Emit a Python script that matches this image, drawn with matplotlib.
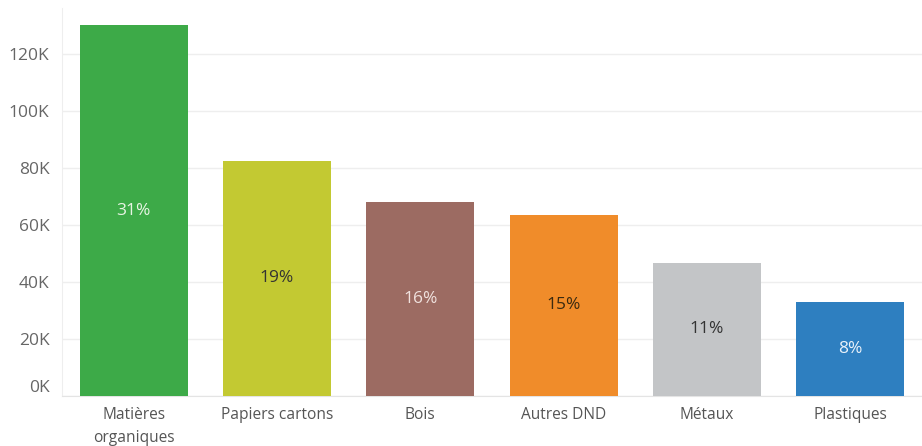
import matplotlib
matplotlib.use("Agg")
import matplotlib.pyplot as plt
from matplotlib.ticker import FuncFormatter

categories = ["Matières\norganiques", "Papiers cartons", "Bois", "Autres DND", "Métaux", "Plastiques"]
values = [130000, 82500, 68000, 63500, 46700, 33000]
pct_labels = ["31%", "19%", "16%", "15%", "11%", "8%"]
colors = ["#3DAA48", "#C3C932", "#9C6B62", "#F08C2A", "#C3C5C7", "#2E7FC0"]
label_colors = ["#E8F5E4", "#333333", "#F0E2DE", "#3A2A10", "#333333", "#EAF2FA"]
yticks = [0, 20000, 40000, 60000, 80000, 100000, 120000]

plt.rcParams['font.family'] = ['Open Sans', 'DejaVu Sans']

fig = plt.figure(figsize=(9.22, 4.46), dpi=100)
ax = fig.add_axes([62/922, 1-396/446, 860/922, 388/446])

x = list(range(len(categories)))
bars = ax.bar(x, values, width=0.755, color=colors, zorder=3)
for xi, v, t, c in zip(x, values, pct_labels, label_colors):
    ax.text(xi, v/2, t, ha='center', va='center', fontsize=12.5, color=c, zorder=4)

ax.set_xlim(-0.5, len(categories)-0.5)
ax.set_ylim(0, 136000)
ax.set_yticks(yticks)
ax.yaxis.set_major_formatter(FuncFormatter(lambda v, p: f"{int(v/1000)}K"))
ax.set_xticks(x)
ax.set_xticklabels(categories, fontsize=11.2, color="#555555", linespacing=1.55)
ax.tick_params(axis='y', labelsize=12.5, labelcolor="#666666", length=0, pad=9)
ax.tick_params(axis='x', length=0, pad=8)
ax.get_yticklabels()[0].set_verticalalignment('bottom')
ax.grid(axis='y', color="#EEEEEE", linewidth=1, zorder=0)
for s in ['top', 'right']:
    ax.spines[s].set_visible(False)
ax.spines['left'].set_color("#EEEEEE")
ax.spines['bottom'].set_color("#E4E4E4")

fig.savefig("out.png", dpi=100)
